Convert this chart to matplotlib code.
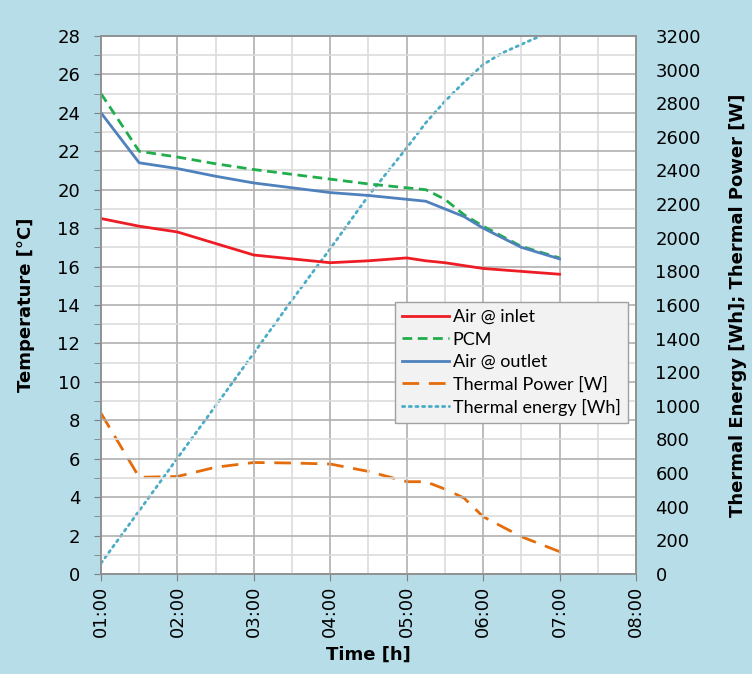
import matplotlib.pyplot as plt
from matplotlib.ticker import MultipleLocator, FuncFormatter
import numpy as np

# time in hours (1.0 = 01:00)
t_temp = [1.0, 1.5, 2.0, 2.5, 3.0, 3.5, 4.0, 4.5, 5.0, 5.25, 5.5, 5.75, 6.0, 6.5, 7.0]
air_inlet = [18.5, 18.1, 17.8, 17.2, 16.6, 16.4, 16.2, 16.3, 16.45, 16.3, 16.2, 16.05, 15.9, 15.75, 15.6]
pcm = [25.0, 22.0, 21.7, 21.35, 21.05, 20.8, 20.55, 20.3, 20.1, 20.0, 19.5, 18.7, 18.1, 17.05, 16.45]
air_outlet = [24.0, 21.4, 21.1, 20.7, 20.35, 20.1, 19.85, 19.7, 19.5, 19.4, 19.0, 18.6, 18.0, 17.0, 16.4]
thermal_power = [956, 575, 580, 635, 663, 660, 654, 610, 549, 549, 505, 452, 341, 222, 133]
t_energy = [1.0, 1.5, 2.0, 2.5, 3.0, 3.5, 4.0, 4.5, 5.0, 5.25, 5.5, 5.75, 6.0, 6.25, 6.5, 6.75, 7.0]
thermal_energy = [64, 376, 689, 1000, 1314, 1630, 1935, 2250, 2534, 2684, 2811, 2925, 3030, 3099, 3150, 3200, 3245]

bg = "#b7dde8"
fig = plt.figure(figsize=(7.52, 6.74), dpi=100, facecolor=bg)
ax = fig.add_axes([0.1343, 0.1484, 0.7114, 0.7982])
ax2 = ax.twinx()

plt.rcParams["font.family"] = ["Lato", "DejaVu Sans"]
fs = 13

ax.set_xlim(1, 8)
ax.set_ylim(0, 28)
ax2.set_ylim(0, 3200)

ax.xaxis.set_major_locator(MultipleLocator(1))
ax.xaxis.set_minor_locator(MultipleLocator(0.5))
ax.yaxis.set_major_locator(MultipleLocator(2))
ax.yaxis.set_minor_locator(MultipleLocator(1))
ax2.yaxis.set_major_locator(MultipleLocator(200))

ax.grid(which="major", color="#b0b0b0", linewidth=1.2)
ax.grid(which="minor", color="#dcdcdc", linewidth=1.2)
ax.set_axisbelow(True)

l1, = ax.plot(t_temp, air_inlet, color="#ee1c25", lw=2, label="Air @ inlet")
l2, = ax.plot(t_temp, pcm, color="#1fae4b", lw=2, ls=(0, (3.5, 2)), label="PCM")
l3, = ax.plot(t_temp, air_outlet, color="#4f81bd", lw=2, label="Air @ outlet")
l4, = ax2.plot(t_temp, thermal_power, color="#e46c0a", lw=2, ls=(0, (6, 3.5)), label="Thermal Power [W]")
l5, = ax2.plot(t_energy, thermal_energy, color="#4bacc6", lw=2, ls=(0, (0.8, 1.6)),
               dash_capstyle="round", label="Thermal energy [Wh]")

ax.xaxis.set_major_formatter(FuncFormatter(lambda v, p: "%02d:00" % int(round(v))))
ax.tick_params(axis="x", which="major", labelsize=fs, rotation=90, length=5, color="#808080")
ax.tick_params(axis="x", which="minor", length=0)
ax.tick_params(axis="y", which="both", labelsize=fs, length=5, color="#808080", pad=10)
ax2.tick_params(axis="y", labelsize=fs, length=0, pad=14)

for a in (ax, ax2):
    for s in a.spines.values():
        s.set_color("#909090")
        s.set_linewidth(1.2)

ax.set_xlabel("Time [h]", fontsize=fs, fontweight="bold", labelpad=6)
ax.set_ylabel("Temperature [°C]", fontsize=fs, fontweight="bold", labelpad=16)
ax2.set_ylabel("Thermal Energy [Wh]; Thermal Power [W]", fontsize=fs, fontweight="bold", labelpad=20)

leg = ax.legend(handles=[l1, l2, l3, l4, l5], loc="upper left", bbox_to_anchor=(0.5495, 0.5056),
                borderaxespad=0, fontsize=fs, frameon=True, fancybox=False, shadow=False,
                handlelength=2.6, handletextpad=0.2, labelspacing=0.35, borderpad=0.4)
leg.get_frame().set_facecolor("#f2f2f2")
leg.get_frame().set_edgecolor("#a0a0a0")
leg.get_frame().set_alpha(1)
leg.set_zorder(10)
ax.set_zorder(ax2.get_zorder() + 1)
ax.patch.set_visible(False)
ax2.patch.set_facecolor("white")
ax2.patch.set_visible(True)
ax.set_facecolor("none")

fig.savefig("out.png", dpi=100, facecolor=bg)
